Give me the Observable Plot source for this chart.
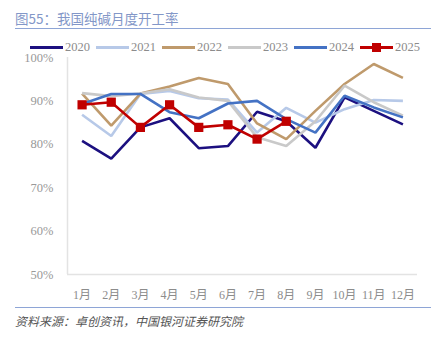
<!DOCTYPE html>
<html>
<head>
<meta charset="utf-8">
<script src="https://cdn.jsdelivr.net/npm/d3@7"></script>
<script src="https://cdn.jsdelivr.net/npm/@observablehq/plot@0.6"></script>
<style>
  html, body { margin: 0; padding: 0; background: #fff; }
  #wrap { position: relative; width: 439px; height: 344px; overflow: hidden; font-family: "Liberation Serif", "Noto Sans CJK SC", serif; }
  #title { position: absolute; left: 15px; top: 8px; font-size: 13.5px; color: #8397c8; font-family: "Noto Sans CJK SC", sans-serif; white-space: nowrap; }
  #rule1 { position: absolute; left: 15px; top: 28px; width: 416px; height: 0; border-top: 1.5px solid #8ea5d6; }
  #legend { position: absolute; left: 30px; top: 39px; height: 16px; }
  .item { position: absolute; top: 0; height: 16px; }
  .sw { position: absolute; top: 7px; width: 33px; height: 3px; }
  .mk { position: absolute; top: 4px; left: 12px; width: 9px; height: 9px; background: #c00000; }
  .lb { position: absolute; left: 35px; top: 0; font-size: 12.5px; line-height: 16px; color: #8c8c8c; }
  #chart { position: absolute; left: 0; top: 52px; }
  #rule2 { position: absolute; left: 15px; top: 307px; width: 416px; height: 0; border-top: 1.5px solid #8ea5d6; }
  #source { position: absolute; left: 15px; top: 312px; font-size: 12px; font-style: italic; color: #555; font-family: "Noto Sans CJK SC", sans-serif; white-space: nowrap; }
</style>
</head>
<body>
<div id="wrap">
  <div id="title">图55：我国纯碱月度开工率</div>
  <div id="rule1"></div>
  <div id="legend"></div>
  <div id="chart"></div>
  <div id="rule2"></div>
  <div id="source">资料来源：卓创资讯，中国银河证券研究院</div>
</div>
<script>
const months = [1,2,3,4,5,6,7,8,9,10,11,12];
const monthLabels = ["1月","2月","3月","4月","5月","6月","7月","8月","9月","10月","11月","12月"];
const years = ["2020","2021","2022","2023","2024","2025"];
const colors = ["#1c1080","#b7c9e8","#bf9a6c","#c9c9c9","#4472c4","#c00000"];
const yTicks = [50,60,70,80,90,100];

const s2020 = [80.8, 76.7, 83.9, 86.0, 79.1, 79.6, 87.5, 85.3, 79.2, 90.8, 87.7, 84.6];
const s2021 = [86.8, 81.9, 91.6, 92.3, 90.6, 90.3, 82.7, 88.4, 85.0, 88.1, 90.2, 90.0];
const s2022 = [91.7, 84.3, 91.7, 93.3, 95.3, 93.9, 84.8, 81.2, 87.7, 93.9, 98.5, 95.3];
const s2023 = [91.8, 91.1, 91.7, 92.7, 90.8, 90.0, 81.6, 79.6, 85.3, 93.5, 89.7, 86.6];
const s2024 = [89.3, 91.6, 91.6, 87.4, 86.0, 89.4, 90.0, 85.8, 82.7, 91.2, 88.5, 86.2];
const s2025 = [89.1, 89.7, 83.9, 89.1, 83.9, 84.5, 81.2, 85.3];

const seriesList = [s2020, s2021, s2022, s2023, s2024, s2025];
const data = [];
seriesList.forEach((s, i) => s.forEach((v, j) => data.push({year: years[i], month: months[j], value: v})));
const d2025 = data.filter(d => d.year === "2025");

// legend
const leg = document.getElementById("legend");
years.forEach((y, i) => {
  const it = document.createElement("div");
  it.className = "item";
  it.style.left = (i * 66) + "px";
  it.innerHTML = `<div class="sw" style="background:${colors[i]}"></div>` +
    (y === "2025" ? `<div class="mk"></div>` : "") +
    `<div class="lb">${y}</div>`;
  leg.appendChild(it);
});

const chart = Plot.plot({
  width: 439,
  height: 253,
  marginTop: 5,
  marginBottom: 31,
  marginLeft: 67,
  marginRight: 22,
  style: {fontSize: "12px", fontFamily: "'Liberation Serif', 'Noto Sans CJK SC', serif", color: "#8c8c8c", background: "transparent"},
  x: {domain: [0.5, 12.5], axis: null, label: null},
  y: {domain: [50, 100], axis: null, label: null},
  color: {domain: years, range: colors},
  marks: [
    Plot.ruleY([50], {stroke: "#e3e3e3", strokeWidth: 1.5}),
    Plot.ruleX([0.5], {y1: 50, y2: 100, stroke: "#e3e3e3", strokeWidth: 1.5}),
    Plot.axisY(yTicks, {tickSize: 0, tickPadding: 14, tickFormat: d => d + "%", fill: "#999", fontSize: 12.5, label: null}),
    Plot.axisX(months, {tickSize: 0, tickPadding: 16, tickFormat: (d, i) => monthLabels[i], fill: "#8c8c8c", fontSize: 12, label: null}),
    Plot.line(data, {x: "month", y: "value", z: "year", stroke: "year", strokeWidth: 2.6, strokeLinejoin: "miter", strokeLinecap: "butt"}),
    Plot.dot(d2025, {x: "month", y: "value", symbol: "square", r: 5.2, fill: "#c00000", stroke: "none"})
  ]
});
document.getElementById("chart").appendChild(chart);
</script>
</body>
</html>
